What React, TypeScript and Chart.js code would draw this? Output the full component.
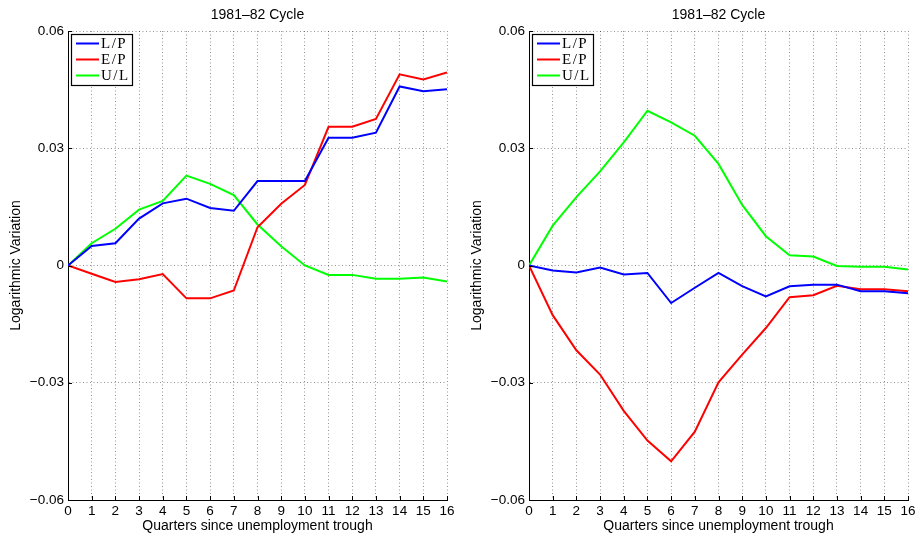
import React, { useEffect, useRef } from 'react';
import { Chart, registerables } from 'chart.js';

Chart.register(...registerables);

const quarters = [0, 1, 2, 3, 4, 5, 6, 7, 8, 9, 10, 11, 12, 13, 14, 15, 16];
const xTickLabels = ['0', '1', '2', '3', '4', '5', '6', '7', '8', '9', '10', '11', '12', '13', '14', '15', '16'];
const yTickValues = [-0.06, -0.03, 0, 0.03, 0.06];
const yTickLabels = ['\u22120.06', '\u22120.03', '0', '0.03', '0.06'];
const seriesNames = ['L/P', 'E/P', 'U/L'];
const seriesColors = ['#0000ff', '#ff0000', '#00ff00'];
const chartTitles = ['1981\u201382 Cycle', '1981\u201382 Cycle'];
const xAxisTitle = 'Quarters since unemployment trough';
const yAxisTitle = 'Logarithmic Variation';

const leftLP = [0, 0.005, 0.0057, 0.012, 0.0159, 0.0171, 0.0147, 0.014, 0.0216, 0.0216, 0.0216, 0.0327, 0.0327, 0.034, 0.0458, 0.0446, 0.0451];
const leftEP = [0, -0.0021, -0.0042, -0.0035, -0.0022, -0.0084, -0.0084, -0.0064, 0.0098, 0.0158, 0.0206, 0.0355, 0.0355, 0.0375, 0.0489, 0.0476, 0.0494];
const leftUL = [0, 0.0057, 0.0094, 0.0143, 0.0165, 0.023, 0.0209, 0.018, 0.0105, 0.0049, 0.0, -0.0024, -0.0024, -0.0034, -0.0034, -0.0031, -0.0041];

const rightLP = [0, -0.0013, -0.0018, -0.0005, -0.0023, -0.0019, -0.0096, -0.0057, -0.0019, -0.0053, -0.0079, -0.0053, -0.0049, -0.0049, -0.0066, -0.0066, -0.0071];
const rightEP = [0, -0.0127, -0.0217, -0.0279, -0.0372, -0.0448, -0.0501, -0.0425, -0.0299, -0.0228, -0.016, -0.0081, -0.0076, -0.0052, -0.0061, -0.0061, -0.0066];
const rightUL = [0, 0.0102, 0.0175, 0.0241, 0.0315, 0.0396, 0.0366, 0.0332, 0.026, 0.0155, 0.0075, 0.0026, 0.0023, -0.0001, -0.0003, -0.0003, -0.001];

const SANS = '"Liberation Sans", Arial, sans-serif';
const SERIF = '"Liberation Serif", "Times New Roman", serif';

const decorPlugin = {
  id: 'decor',
  afterDatasetsDraw(chart: any) {
    const { ctx, chartArea: a, scales } = chart;
    const x = scales.x;
    const y = scales.y;
    ctx.save();
    // inside tick marks
    ctx.strokeStyle = '#000';
    ctx.lineWidth = 1;
    ctx.beginPath();
    x.ticks.forEach((t: any) => {
      const px = Math.round(x.getPixelForValue(t.value)) + 0.5;
      ctx.moveTo(px, a.bottom);
      ctx.lineTo(px, a.bottom - 4);
    });
    y.ticks.forEach((t: any) => {
      const py = Math.round(y.getPixelForValue(t.value)) + 0.5;
      ctx.moveTo(a.left, py);
      ctx.lineTo(a.left + 4, py);
    });
    ctx.stroke();
    // legend box
    const bx = Math.round(a.left) + 3;
    const by = Math.round(a.top) + 3;
    const bw = 61;
    const bh = 51;
    ctx.fillStyle = '#fff';
    ctx.fillRect(bx, by, bw, bh);
    ctx.strokeStyle = '#000';
    ctx.lineWidth = 1.2;
    ctx.strokeRect(bx + 0.5, by + 0.5, bw, bh);
    chart.data.datasets.forEach((ds: any, i: number) => {
      const ly = by + 9.5 + i * 16;
      ctx.strokeStyle = ds.borderColor;
      ctx.lineWidth = 2;
      ctx.beginPath();
      ctx.moveTo(bx + 5, ly);
      ctx.lineTo(bx + 28, ly);
      ctx.stroke();
      ctx.fillStyle = '#000';
      ctx.font = '15px ' + SERIF;
      try { (ctx as any).letterSpacing = '1.5px'; } catch (e) {}
      ctx.textBaseline = 'middle';
      ctx.textAlign = 'left';
      ctx.fillText(ds.label, bx + 30, ly + 0.5);
      try { (ctx as any).letterSpacing = '0px'; } catch (e) {}
    });
    ctx.restore();
  },
};

function makeConfig(title: string, series: number[][]): any {
  return {
    type: 'line',
    data: {
      datasets: series.map((vals, i) => ({
        label: seriesNames[i],
        data: quarters.map((q, j) => ({ x: q, y: vals[j] })),
        borderColor: seriesColors[i],
        backgroundColor: seriesColors[i],
        borderWidth: 2,
        pointRadius: 0,
        tension: 0,
        fill: false,
      })),
    },
    options: {
      responsive: false,
      animation: false,
      events: [],
      layout: { padding: { left: 0, right: 7, top: 0, bottom: 0 } },
      plugins: {
        legend: { display: false },
        tooltip: { enabled: false },
        title: {
          display: true,
          text: title,
          fullSize: false,
          color: '#000',
          font: { family: SANS, size: 14, weight: 'normal' },
          padding: { top: 6.6, bottom: 7.6 },
        },
      },
      scales: {
        x: {
          type: 'linear',
          min: 0,
          max: 16,
          afterBuildTicks: (s: any) => {
            s.ticks = quarters.map((v) => ({ value: v }));
          },
          afterFit: (s: any) => {
            s.height = 35;
            s.paddingLeft = 0;
            s.paddingRight = 0;
          },
          ticks: {
            autoSkip: false,
            maxRotation: 0,
            padding: 3,
            color: '#000',
            font: { family: SANS, size: 13.5 },
            callback: (_v: any, i: number) => xTickLabels[i],
          },
          grid: { color: 'rgba(0,0,0,0.42)', lineWidth: 1, drawTicks: false, z: -1 },
          border: { display: true, color: '#000', width: 1, dash: [1, 2.5] },
          title: {
            display: true,
            text: xAxisTitle,
            color: '#000',
            font: { family: SANS, size: 14 },
            padding: { top: 0, bottom: 0.5 },
          },
        },
        y: {
          type: 'linear',
          min: -0.06,
          max: 0.06,
          afterBuildTicks: (s: any) => {
            s.ticks = yTickValues.map((v) => ({ value: v }));
          },
          afterFit: (s: any) => {
            s.width = 68;
            s.paddingTop = 0;
            s.paddingBottom = 0;
          },
          ticks: {
            autoSkip: false,
            padding: 4,
            color: '#000',
            font: { family: SANS, size: 13.5 },
            callback: (_v: any, i: number) => yTickLabels[i],
          },
          grid: { color: 'rgba(0,0,0,0.42)', lineWidth: 1, drawTicks: false, z: -1 },
          border: { display: true, color: '#000', width: 1, dash: [1, 2.5] },
          title: {
            display: true,
            text: yAxisTitle,
            color: '#000',
            font: { family: SANS, size: 14 },
            padding: { top: 8, bottom: 0 },
          },
        },
      },
    },
    plugins: [decorPlugin],
  };
}

function Panel(props: { left: number; title: string; series: number[][] }) {
  const ref = useRef<HTMLCanvasElement | null>(null);
  useEffect(() => {
    if (!ref.current) return;
    const chart = new Chart(ref.current, makeConfig(props.title, props.series));
    return () => chart.destroy();
  }, []);
  return (
    <canvas
      ref={ref}
      width={454}
      height={535}
      style={{ position: 'absolute', left: props.left, top: 0, width: 454, height: 535 }}
    />
  );
}

export default function App() {
  return (
    <div style={{ position: 'fixed', left: 0, top: 0, width: 915, height: 535, background: '#fff', overflow: 'hidden' }}>
      <Panel left={0} title={chartTitles[0]} series={[leftLP, leftEP, leftUL]} />
      <Panel left={461} title={chartTitles[1]} series={[rightLP, rightEP, rightUL]} />
    </div>
  );
}
